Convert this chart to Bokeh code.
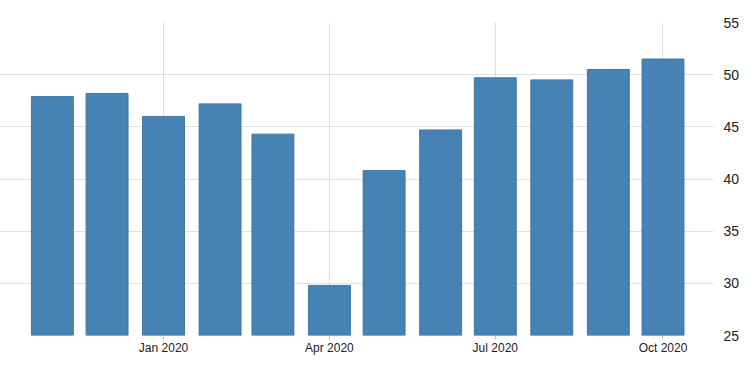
import pandas as pd
from bokeh.plotting import figure
from bokeh.models import FixedTicker, Range1d, ColumnDataSource
from bokeh.embed import file_html
from bokeh.resources import INLINE

months = ["2019-11-01", "2019-12-01", "2020-01-01", "2020-02-01", "2020-03-01", "2020-04-01",
          "2020-05-01", "2020-06-01", "2020-07-01", "2020-08-01", "2020-09-01", "2020-10-01"]
values = [47.9, 48.2, 46.0, 47.2, 44.3, 29.8, 40.8, 44.7, 49.7, 49.5, 50.5, 51.5]
tick_dates = ["2020-01-01", "2020-04-01", "2020-07-01", "2020-10-01"]
tick_labels = ["Jan 2020", "Apr 2020", "Jul 2020", "Oct 2020"]
y_ticks = [25, 30, 35, 40, 45, 50, 55]

dates = pd.to_datetime(months)
source = ColumnDataSource(dict(x=dates, top=values))

x_start = pd.Timestamp("2019-10-03 13:00")
x_end = pd.Timestamp("2020-10-28 17:00")

p = figure(width=742, height=365, output_backend="svg", toolbar_location=None,
           x_axis_type="datetime", y_axis_location="right",
           x_range=Range1d(x_start, x_end), y_range=Range1d(25, 55),
           min_border_left=0, min_border_right=27, min_border_top=22, min_border_bottom=30)
p.outline_line_color = None
p.background_fill_color = "white"
p.border_fill_color = "white"

day_ms = 86400000
p.vbar(x="x", top="top", bottom=25, width=23 * day_ms, source=source,
       fill_color="#4682B4", line_color="#41779f", line_width=1)

tick_ms = [pd.Timestamp(d).value // 10**6 for d in tick_dates]
p.xaxis.ticker = FixedTicker(ticks=tick_ms)
p.xaxis.major_label_overrides = {t: l for t, l in zip(tick_ms, tick_labels)}
p.xaxis.axis_line_color = None
p.xaxis.major_tick_line_color = "#c0c0c0"
p.xaxis.major_tick_out = 4
p.xaxis.major_tick_in = 0
p.xaxis.minor_tick_line_color = None
p.xaxis.major_label_standoff = 1
p.xaxis.major_label_text_font = "Liberation Sans"
p.xaxis.major_label_text_font_size = "12px"
p.xaxis.major_label_text_color = "#222222"

p.yaxis.ticker = FixedTicker(ticks=y_ticks)
p.yaxis.axis_line_color = None
p.yaxis.major_tick_line_color = None
p.yaxis.minor_tick_line_color = None
p.yaxis.major_label_standoff = 4
p.yaxis.major_label_text_font = "Liberation Sans"
p.yaxis.major_label_text_font_size = "14px"
p.yaxis.major_label_text_color = "#222222"

p.xgrid.ticker = FixedTicker(ticks=tick_ms)
p.xgrid.grid_line_color = "#c0c0c0"
p.xgrid.grid_line_dash = "1 1"
p.ygrid.ticker = FixedTicker(ticks=y_ticks)
p.ygrid.grid_line_color = "#c0c0c0"
p.ygrid.grid_line_dash = "1 1"

open("out.html", "w").write(file_html(p, INLINE))
